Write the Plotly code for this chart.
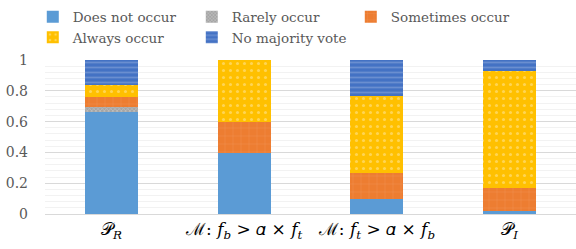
import plotly.graph_objects as go

categories = ["𝒫<sub>𝑅</sub>", "ℳ: 𝑓<sub>𝑏</sub> > 𝛼 × 𝑓<sub>𝑡</sub>",
              "ℳ: 𝑓<sub>𝑡</sub> > 𝛼 × 𝑓<sub>𝑏</sub>", "𝒫<sub>𝐼</sub>"]
does_not_occur = [0.664, 0.398, 0.095, 0.02]
rarely_occur = [0.034, 0.0, 0.0, 0.0]
sometimes_occur = [0.062, 0.202, 0.173, 0.147]
always_occur = [0.08, 0.40, 0.50, 0.763]
no_majority = [0.16, 0.0, 0.232, 0.07]

SERIF = "DejaVu Serif"

series = [
    ("Does not occur", does_not_occur, "#5B9BD5", None),
    ("Rarely occur", rarely_occur, "#A5A5A5", dict(shape="x", fgcolor="#E0E0E0", size=3, solidity=0.4)),
    ("Sometimes occur", sometimes_occur, "#ED7D31", dict(shape="+", fgcolor="#F4A574", size=8, solidity=0.1)),
    ("Always occur", always_occur, "#FFC000", dict(shape=".", fgcolor="#FFE9A8", size=7, solidity=0.15)),
    ("No majority vote", no_majority, "#4472C4", dict(shape="-", fgcolor="#8FAADC", size=5, solidity=0.35)),
]

fig = go.Figure()
for name, vals, color, pat in series:
    marker = dict(color=color, line=dict(width=0))
    if pat:
        marker["pattern"] = dict(pat, bgcolor=color)
    fig.add_trace(go.Bar(name=name, x=categories, y=vals, marker=marker, width=0.4))

fig.update_layout(
    barmode="stack",
    width=576, height=249,
    margin=dict(l=45, r=0, t=60, b=35, autoexpand=False),
    plot_bgcolor="white", paper_bgcolor="white",
    font=dict(family=SERIF, color="#595959"),
    legend=dict(orientation="h", x=-0.023, xanchor="left", y=1.38, yanchor="top",
                entrywidth=114, entrywidthmode="pixels", itemwidth=30,
                bgcolor="rgba(0,0,0,0)",
                font=dict(size=13.5, color="#595959", family=SERIF),
                traceorder="normal", tracegroupgap=0),
    showlegend=True,
)
fig.update_yaxes(range=[0, 1], tickvals=[0, 0.2, 0.4, 0.6, 0.8, 1],
                 ticktext=["0", "0.2", "0.4", "0.6", "0.8", "1"],
                 gridcolor="#D9D9D9", gridwidth=1,
                 minor=dict(dtick=0.04, showgrid=True, gridcolor="#F2F2F2", gridwidth=1),
                 tickfont=dict(size=14, color="#595959", family=SERIF),
                 ticklabelstandoff=16, zeroline=False, showline=False)
fig.update_xaxes(tickfont=dict(size=17, color="#000000", family=SERIF),
                 showline=True, linecolor="#D9D9D9", linewidth=1)

fig.write_html("out.html", config={"displayModeBar": False},
               post_script="document.body.style.margin='0';")
